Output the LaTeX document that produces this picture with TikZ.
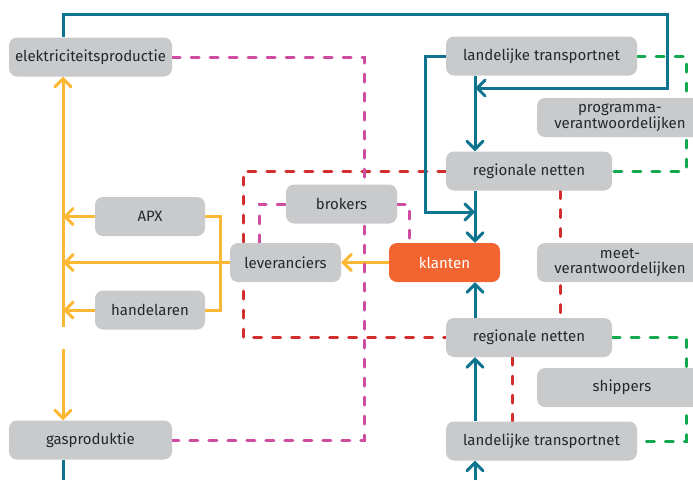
\documentclass[tikz,border=0pt]{standalone}
\usepackage{fontspec}
\setmainfont{Fira Sans}
\usetikzlibrary{arrows.meta,backgrounds}

\definecolor{boxgray}{HTML}{C9CACC}
\definecolor{txtdark}{HTML}{24282E}
\definecolor{petrol}{HTML}{0E7490}
\definecolor{amber}{HTML}{FCB735}
\definecolor{klantorange}{HTML}{F26531}
\definecolor{magenta}{HTML}{CF4B9F}
\definecolor{redline}{HTML}{D22E2E}
\definecolor{greenline}{HTML}{12A84E}

\tikzset{
    box/.style={rounded corners=8pt, fill=boxgray, text=txtdark, inner sep=0pt,
        minimum height=39pt, font=\fontsize{15}{14.5}\selectfont, align=center},
    flow/.style={line width=3pt, -{Straight Barb[length=8pt,width=16pt,line cap=round]}},
    link/.style={line width=3pt, line cap=round, dash pattern=on 8pt off 11pt},
}

\begin{document}
\begin{tikzpicture}[x=1pt,y=-1pt]
                \useasboundingbox (0,0) rectangle (693,480);
                \clip (0,0) rectangle (693,480);

                \coordinate (spineL) at (63,0);
                \coordinate (spineM) at (475,0);
                \coordinate (pinkX) at (364,0);
                \coordinate (redX) at (243,0);
                \coordinate (greenX) at (686,0);
                \coordinate (topR) at (667,14);
                \coordinate (loopC) at (425,212);
                \coordinate (gapTop) at (63,327);
                \coordinate (gapBot) at (63,349);

                \node[box, minimum width=163pt] (elek) at (90.5,57) {elektriciteitsproductie};
                \node[box, minimum width=163pt] (gas) at (90.5,440) {gasproduktie};
                \node[box, minimum width=110pt] (apx) at (150,216.5) {APX};
                \node[box, minimum width=110pt] (hand) at (150,310) {handelaren};
                \node[box, minimum width=111pt] (lev) at (285.5,262.5) {leveranciers};
                \node[box, minimum width=111pt] (brok) at (341.5,204) {brokers};
                \node[box, minimum width=111pt, fill=klantorange, text=white] (klanten) at (444.5,262.5) {klanten};
                \node[box, minimum width=191pt] (ltop) at (541.5,56) {landelijke transportnet};
                \node[box, minimum width=166pt] (rtop) at (529,171) {regionale netten};
                \node[box, minimum width=166pt] (rbot) at (529,337.5) {regionale netten};
                \node[box, minimum width=191pt] (lbot) at (541.5,441) {landelijke transportnet};
                \node[box, minimum width=166pt] (prog) at (620,117.5) {programma-\\verantwoordelijken};
                \node[box, minimum width=166pt] (meet) at (620,262.5) {meet-\\verantwoordelijken};
                \node[box, minimum width=170pt] (ship) at (622,387.5) {shippers};

                \begin{scope}[on background layer]
                \draw[flow, amber] (gapTop) -- (elek.south -| spineL);
                \draw[flow, amber] (gapBot) -- (gas.north -| spineL);
                \draw[flow, amber] (apx.west) -- (apx.west -| spineL);
                \draw[flow, amber] (lev.west) -- (lev.west -| spineL);
                \draw[flow, amber] (hand.west) -- (hand.west -| spineL);
                \draw[line width=3pt, amber] (apx.east) -- ++(15,0) |- (hand.east);
                \draw[flow, amber] (klanten.west) -- (lev.east);

                \draw[link, redline] (rtop.west) -| (redX |- rbot.west) -- (rbot.west);
                \draw[link, redline] (rtop.south -| 560,0) -- (rbot.north -| 560,0);
                \draw[link, redline] (rbot.south -| 512,0) -- (lbot.north -| 512,0);

                \draw[link, greenline] (ltop.east) -| (greenX |- rtop.east) -- (rtop.east);
                \draw[link, greenline] (rbot.east) -| (greenX |- lbot.east) -- (lbot.east);

                \draw[flow, petrol] (elek.north -| spineL) |- (topR) |- (spineM |- 0,88);
                \draw[flow, petrol] (ltop.south -| spineM) -- (rtop.north -| spineM);
                \draw[flow, petrol] (ltop.west) -| (loopC) -- (loopC -| spineM);
                \draw[flow, petrol] (rtop.south -| spineM) -- (klanten.north -| spineM);
                \draw[flow, petrol] (rbot.north -| spineM) -- (klanten.south -| spineM);
                \draw[flow, petrol] (lbot.north -| spineM) -- (rbot.south -| spineM);
                \draw[flow, petrol] (spineM |- 0,480) -- (lbot.south -| spineM);
                \draw[line width=3pt, petrol] (gas.south -| spineL) -- (spineL |- 0,480);

                \draw[link, magenta] (elek.east) -| (pinkX |- gas.east) -- (gas.east);
                \draw[link, magenta] (lev.north -| 259,0) |- (brok.west);
                \draw[link, magenta] (brok.east) -| (klanten.north -| 409,0);
                \end{scope}
            \end{tikzpicture}
\end{document}
